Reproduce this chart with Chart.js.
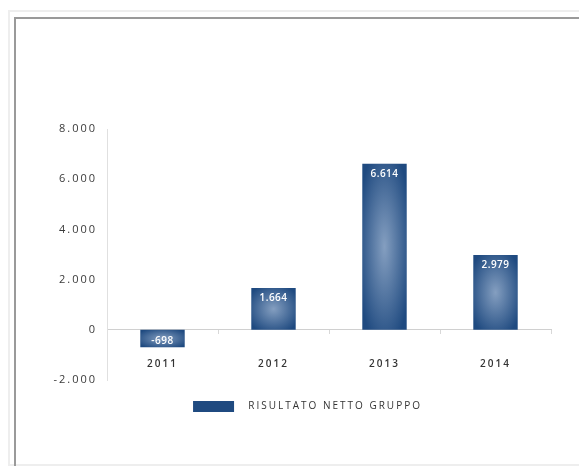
<!DOCTYPE html>
<html>
<head>
<meta charset="utf-8">
<script src="https://cdn.jsdelivr.net/npm/chart.js@4.4.0/dist/chart.umd.min.js"></script>
<style>
    html, body { margin: 0; padding: 0; background: #fff; width: 579px; height: 466px; overflow: hidden; }
    .frame { position: absolute; left: 8px; top: 10px; width: 600px; height: 452px; border: 2px solid #eeeeee; border-right: none; }
    .panel { position: absolute; left: 14px; top: 17px; width: 600px; height: 500px; border-left: 2px solid #9a9a9a; border-top: 2px solid #9a9a9a; }
    .wrap { position: absolute; left: 16px; top: 19px; width: 563px; height: 447px; }
</style>
</head>
<body>
<div class="frame"></div>
<div class="panel"></div>
<div class="wrap"><canvas id="risultatoChart"></canvas></div>

<script>
const years = ["2011", "2012", "2013", "2014"];
const risultatoNetto = [-698, 1664, 6614, 2979];
const yTicks = [-2000, 0, 2000, 4000, 6000, 8000];
const seriesLabel = "RISULTATO NETTO GRUPPO";

const barColor = "#1f4a80";

// 6614 -> "6.614"
function formatIt(v) {
    const s = Math.abs(v).toString().replace(/\B(?=(\d{3})+(?!\d))/g, ".");
    return (v < 0 ? "-" : "") + s;
}

// testo spaziato per assi e legenda
const letterSpacing = {
    id: "letterSpacing",
    beforeUpdate(chart) { chart.ctx.letterSpacing = "2px"; },
    beforeDraw(chart) { chart.ctx.letterSpacing = "2px"; }
};

// la legenda va un po' a destra rispetto al centro del canvas
const legendNudge = {
    id: "legendNudge",
    afterLayout(chart) {
        chart.legend.left += 24;
        chart.legend.right += 24;
    }
};

// alone chiaro al centro di ogni barra + valore in bianco
const barGlow = {
    id: "barGlow",
    afterDatasetsDraw(chart) {
        const ctx = chart.ctx;
        const meta = chart.getDatasetMeta(0);
        meta.data.forEach((bar, i) => {
            const { x, y, base, width } = bar.getProps(["x", "y", "base", "width"], true);
            const top = Math.min(y, base);
            const h = Math.abs(base - y);

            ctx.save();
            ctx.beginPath();
            ctx.rect(x - width / 2, top, width, h);
            ctx.clip();
            ctx.translate(x, top + h / 2);
            ctx.scale(1, h / width);
            const g = ctx.createRadialGradient(0, 0, 0, 0, 0, width * 0.62);
            g.addColorStop(0, "rgba(200,215,235,0.6)");
            g.addColorStop(1, "rgba(200,215,235,0)");
            ctx.fillStyle = g;
            ctx.fillRect(-width / 2, -width / 2, width, width);
            ctx.restore();

            const v = risultatoNetto[i];
            ctx.save();
            ctx.letterSpacing = "0.5px";
            ctx.font = "600 10px 'Open Sans', sans-serif";
            ctx.fillStyle = "#ffffff";
            ctx.textAlign = "center";
            ctx.textBaseline = "middle";
            const ly = v >= 0 ? y + 10 : y - 6;
            ctx.fillText(formatIt(v), x, ly);
            ctx.restore();
        });
    }
};

Chart.defaults.font.family = "'Open Sans', sans-serif";

new Chart(document.getElementById("risultatoChart"), {
    type: "bar",
    data: {
        labels: years,
        datasets: [{
            label: seriesLabel,
            data: risultatoNetto,
            backgroundColor: barColor,
            barPercentage: 0.4,
            categoryPercentage: 1
        }]
    },
    options: {
        responsive: true,
        maintainAspectRatio: false,
        animation: false,
        layout: {
            padding: { top: 110, left: 0, right: 28, bottom: 44 }
        },
        plugins: {
            tooltip: { enabled: false },
            legend: {
                position: "bottom",
                labels: {
                    boxWidth: 41,
                    boxHeight: 11,
                    padding: 21,
                    color: "#333",
                    font: { size: 10 },
                    generateLabels(chart) {
                        return Chart.defaults.plugins.legend.labels.generateLabels(chart)
                            .map(l => Object.assign(l, { text: "  " + l.text, lineWidth: 0 }));
                    }
                }
            }
        },
        scales: {
            x: {
                position: { y: 0 },
                grid: {
                    display: true,
                    drawOnChartArea: false,
                    tickLength: 4,
                    color: "#d8d8d8",
                    offset: true
                },
                border: { display: true, color: "#d0d0d0" },
                ticks: {
                    color: "#333",
                    font: { size: 10, weight: "600" },
                    padding: 24
                }
            },
            y: {
                min: -2000,
                max: 8000,
                afterBuildTicks(scale) {
                    scale.ticks = yTicks.map(v => ({ value: v }));
                },
                afterFit(scale) {
                    scale.width = 91;
                },
                grid: { display: false, drawTicks: false },
                border: { display: true, color: "#e0e0e0" },
                ticks: {
                    color: "#3a3a3a",
                    font: { size: 11 },
                    padding: 10,
                    callback: v => formatIt(v)
                }
            }
        }
    },
    plugins: [letterSpacing, legendNudge, barGlow]
});
</script>
</body>
</html>
